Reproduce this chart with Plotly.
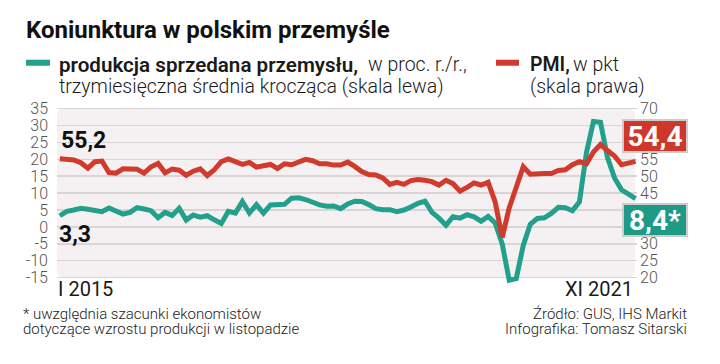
import plotly.graph_objects as go

# ---------------- data ----------------
months = [f"{y}-{m:02d}" for y in range(2015, 2022) for m in range(1, 13)][:83]

production = [3.3, 4.6, 5.0, 5.5, 5.2, 4.7, 4.5, 5.6, 4.6, 3.8, 4.3, 5.7,
              5.3, 4.8, 2.7, 4.3, 3.4, 5.5, 2.0, 3.5, 2.9, 3.3, 2.1, 1.0,
              4.6, 4.1, 7.5, 4.1, 6.6, 4.1, 6.5, 6.6, 6.7, 8.5, 8.6, 8.1,
              7.2, 6.5, 6.1, 6.2, 5.4, 6.8, 7.6, 7.5, 6.6, 5.4, 5.1, 5.1,
              4.5, 5.0, 5.9, 7.0, 7.6, 4.3, 2.6, 0.5, 3.0, 2.6, 3.6, 3.0,
              1.7, 3.1, 1.2, -5.0, -15.8, -15.3, -5.5, 0.8, 2.5, 2.7, 4.0, 5.8,
              5.7, 4.8, 7.4, 22.0, 31.2, 31.0, 20.5, 14.5, 11.0, 9.8, 8.4]

pmi = [55.2, 55.1, 54.8, 54.0, 52.4, 54.3, 54.5, 51.1, 50.9, 52.2, 52.1, 52.1,
       50.9, 52.8, 53.8, 51.0, 52.1, 51.8, 50.3, 51.5, 52.2, 50.2, 51.9, 54.3,
       55.1, 54.2, 53.5, 54.1, 52.7, 53.1, 53.5, 52.3, 53.7, 53.4, 54.2, 55.0,
       54.6, 53.7, 53.7, 53.3, 53.3, 54.2, 52.9, 51.4, 50.5, 50.4, 49.5, 47.6,
       48.2, 47.6, 48.7, 49.0, 48.8, 48.4, 47.4, 48.8, 47.8, 45.6, 46.7, 48.0,
       47.4, 48.2, 42.4, 31.9, 40.6, 47.2, 52.8, 50.6, 50.8, 50.8, 50.8, 51.7,
       51.9, 53.4, 54.3, 53.7, 57.2, 59.4, 57.6, 56.0, 53.4, 53.8, 54.4]

left_ticks = [-15, -10, -5, 0, 5, 10, 15, 20, 25, 30, 35]
right_ticks = [20, 25, 30, 45, 50, 55, 70]
x_labels = ["I 2015", "XI 2021"]
first_labels = ["55,2", "3,3"]
last_labels = ["54,4", "8,4*"]

# ---------------- style ----------------
GREEN = "#22a08b"
RED = "#d13b2d"
FONT = "Roboto"

W, H = 720, 364
L, R = 57, 637
T, B = 107.3, 286.45


def px(x):
    return (x - L) / (R - L)


def py(y):
    return (B - y) / (B - T)


xi = list(range(len(months)))

fig = go.Figure()
fig.add_trace(go.Scatter(x=xi, y=production, mode="lines", yaxis="y",
                         line=dict(color=GREEN, width=5), hoverinfo="skip"))
fig.add_trace(go.Scatter(x=xi, y=pmi, mode="lines", yaxis="y2",
                         line=dict(color=RED, width=5), hoverinfo="skip"))

# rounded plot background
x0, x1 = px(57), px(635)
y0, y1 = py(277.8), py(109)
rx, ry = 7 / (R - L), 7 / (B - T)
path = (f"M {x0+rx},{y0} L {x1-rx},{y0} Q {x1},{y0} {x1},{y0+ry} "
        f"L {x1},{y1-ry} Q {x1},{y1} {x1-rx},{y1} L {x0+rx},{y1} "
        f"Q {x0},{y1} {x0},{y1-ry} L {x0},{y0+ry} Q {x0},{y0} {x0+rx},{y0} Z")
shapes = [dict(type="path", path=path, xref="paper", yref="paper",
               fillcolor="#f5f1f3", line=dict(width=0), layer="below")]
# legend dashes
shapes.append(dict(type="line", xref="paper", yref="paper", x0=px(26), x1=px(50),
                   y0=py(63), y1=py(63), line=dict(color=GREEN, width=6)))
shapes.append(dict(type="line", xref="paper", yref="paper", x0=px(496), x1=px(519),
                   y0=py(63), y1=py(63), line=dict(color=RED, width=6)))

ann = []


def text(x, y, s, size, anchor="left", color="#1a1a1a", weight=400, yanchor="middle"):
    ann.append(dict(x=px(x), y=py(y), xref="paper", yref="paper", text=s,
                    showarrow=False, xanchor=anchor, yanchor=yanchor,
                    font=dict(family=FONT, size=size, color=color, weight=weight)))


text(24, 30, "<b>Koniunktura w polskim przemyśle</b>", 24, color="#111")
text(57, 65, "produkcja sprzedana przemysłu,", 20.6, weight=600)
text(366, 65, "w proc. r./r.,", 19.5, weight=300)
text(57, 87, "trzymiesięczna średnia krocząca (skala lewa)", 19.5, weight=300)
text(528, 65, "PMI,", 19.5, weight=600)
text(571, 65, "w pkt", 19.5, weight=300)
text(528, 87, "(skala prawa)", 19.5, weight=300)

# first-value labels
ann.append(dict(x=0, y=pmi[0] + 5.5, xref="x", yref="y2", text=f"<b>{first_labels[0]}</b>",
                showarrow=False, xanchor="left", yanchor="middle", xshift=-1,
                font=dict(family=FONT, size=23, color="#111")))
ann.append(dict(x=0, y=production[0] - 5.5, xref="x", yref="y", text=f"<b>{first_labels[1]}</b>",
                showarrow=False, xanchor="left", yanchor="middle", xshift=-3,
                font=dict(family=FONT, size=23, color="#111")))

# last-value boxes
ann.append(dict(x=px(655), y=py(136), xref="paper", yref="paper", text=f"<b>{last_labels[0]}</b>",
                showarrow=False, xanchor="center", yanchor="middle", width=60, height=28,
                bgcolor="#cf372b", bordercolor="#d0cccc", borderwidth=2, borderpad=1,
                font=dict(family=FONT, size=28, color="white")))
ann.append(dict(x=px(655), y=py(220), xref="paper", yref="paper", text=f"<b>{last_labels[1]}</b>",
                showarrow=False, xanchor="center", yanchor="middle", width=60, height=28,
                bgcolor="#1f9a85", bordercolor="#d0cccc", borderwidth=2, borderpad=1,
                font=dict(family=FONT, size=28, color="white")))

# x period labels
ann.append(dict(x=0, y=py(289), xref="x", yref="paper", text=x_labels[0], showarrow=False,
                xanchor="left", yanchor="middle", xshift=-4,
                font=dict(family=FONT, size=20, color="#1a1a1a", weight=400)))
ann.append(dict(x=82, y=py(289), xref="x", yref="paper", text=x_labels[1], showarrow=False,
                xanchor="right", yanchor="middle", xshift=-1,
                font=dict(family=FONT, size=20, color="#1a1a1a", weight=400)))

# footnotes
text(21, 314, "* uwzględnia szacunki ekonomistów", 15, color="#222", weight=300)
text(21, 329, "dotyczące wzrostu produkcji w listopadzie", 15, color="#222", weight=300)
text(689, 314, "Źródło: GUS, IHS Markit", 15, anchor="right", color="#222", weight=300)
text(689, 329, "Infografika: Tomasz Sitarski", 15, anchor="right", color="#222", weight=300)

fig.update_layout(
    width=W, height=H,
    margin=dict(l=L, r=W - R, t=T, b=H - B, pad=0),
    paper_bgcolor="white", plot_bgcolor="rgba(0,0,0,0)",
    showlegend=False,
    font=dict(family=FONT),
    xaxis=dict(range=[-0.4, 82.2], showgrid=False, zeroline=False, showticklabels=False,
               showline=False, fixedrange=True),
    yaxis=dict(range=[-17.5, 35.5], tickvals=left_ticks, ticktext=[str(v) for v in left_ticks],
               showgrid=True, gridcolor="#d9d5d7", gridwidth=1.5, zeroline=False,
               showline=False, ticks="", ticklabelstandoff=8,
               tickfont=dict(family=FONT, size=16, color="#555", weight=300)),
    yaxis2=dict(range=[17.5, 70.5], overlaying="y", side="right", tickvals=right_ticks,
                showgrid=False, zeroline=False, showline=False, ticks="", ticklabelstandoff=2,
                tickfont=dict(family=FONT, size=16, color="#555", weight=300)),
    shapes=shapes,
    annotations=ann,
)

fig.write_html("out.html", config={"displayModeBar": False, "staticPlot": True},
               post_script="document.body.style.margin='0';document.body.style.overflow='hidden';")
